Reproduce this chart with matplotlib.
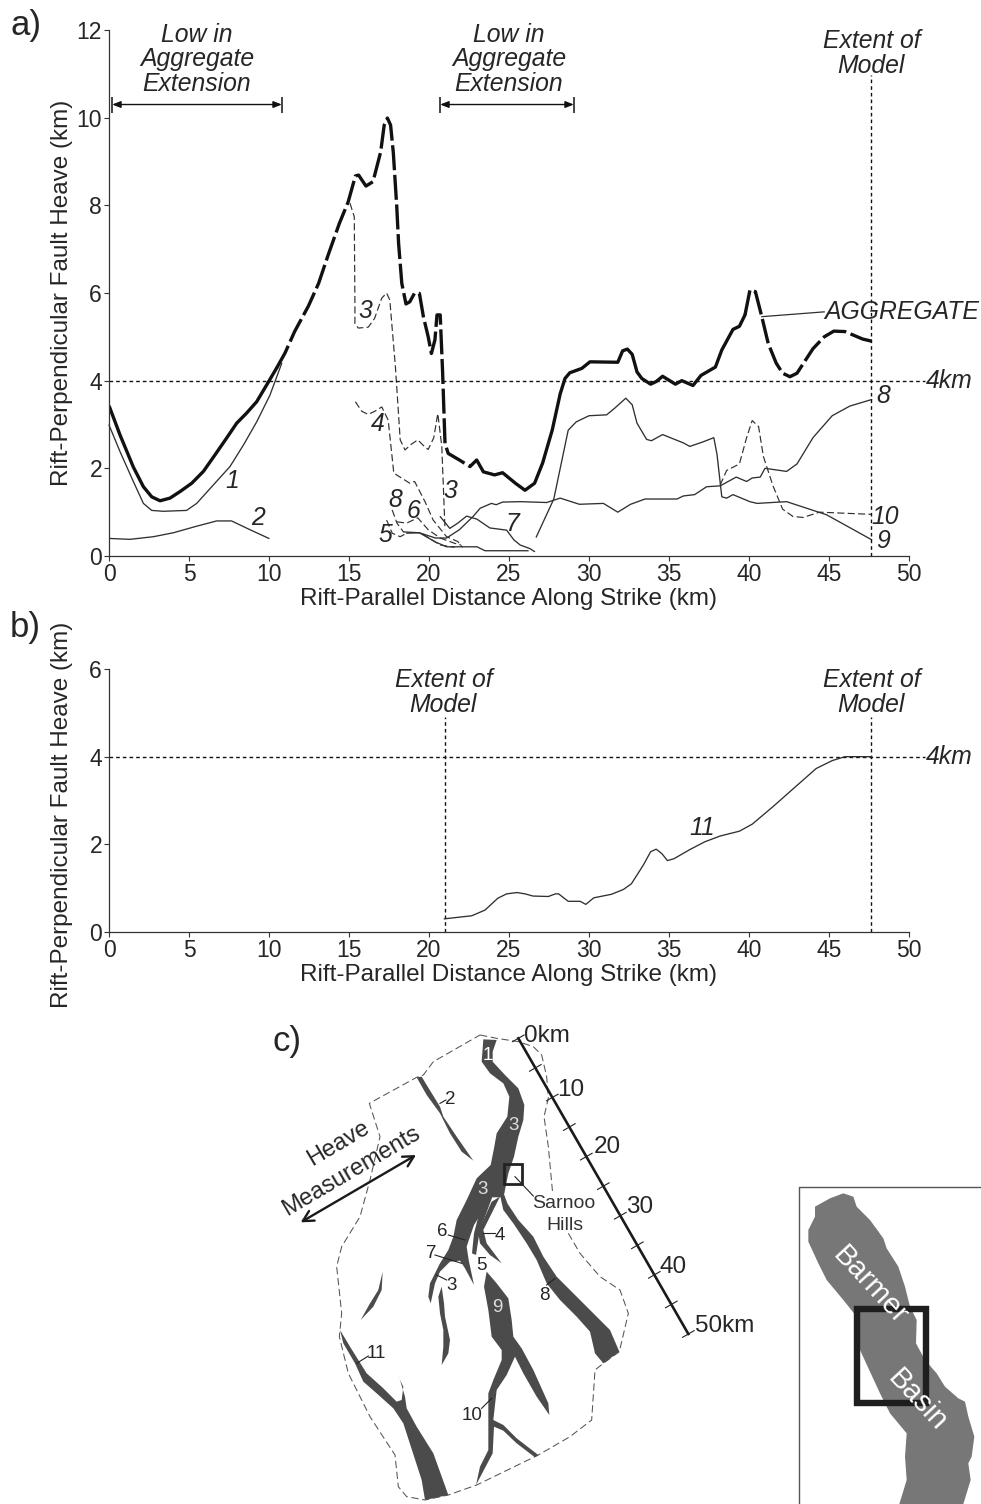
import matplotlib
matplotlib.use('Agg')
import matplotlib.pyplot as plt
import numpy as np
from matplotlib.patches import Polygon, Rectangle

plt.rcParams['font.family'] = ['Liberation Sans', 'DejaVu Sans']
W, H = 981, 1504
DARK = '#262626'
FAULT = '#4b4b4b'

# ---- panel a data (km along strike, km heave)
agg_x = [0.02,0.69,1.52,2.15,2.67,3.19,3.81,4.44,5.17,5.9,6.63,7.35,7.98,8.6,9.23,9.85,10.48,11,11.6,12.46,13.1,13.7,14.4,14.95,15.4,15.6,16.06,16.5,16.98,17.2,17.4,17.6,17.77,17.98,18.1,18.3,18.56,18.8,19.1,19.4,19.65,19.95,20.15,20.37,20.5,20.7,20.85,21,21.2,21.9,22.56,22.98,23.4,24.1,24.6,25.4,26,26.6,27.1,27.7,28.2,28.5,28.8,29.55,30.06,31.8,32.1,32.4,32.7,33,33.3,33.85,34.2,34.6,35.4,35.8,36.5,37,37.9,38.3,39,39.4,39.75,40.06,40.4,40.8,41.2,41.7,42.1,42.56,43,44,44.7,45.3,46,47.1,47.67]
agg_y = [3.41,2.76,2.03,1.58,1.35,1.26,1.32,1.47,1.66,1.93,2.31,2.69,3.03,3.26,3.52,3.9,4.29,4.63,5.12,5.7,6.22,6.87,7.59,8.08,8.67,8.69,8.44,8.54,9.22,9.83,9.99,9.83,9.2,8.0,7.13,6.22,5.75,5.8,6.0,5.99,5.46,5.0,4.62,4.93,5.5,5.5,4.2,2.57,2.34,2.19,2.04,2.19,1.92,1.85,1.9,1.66,1.5,1.66,2.12,2.87,3.7,4.05,4.18,4.28,4.43,4.42,4.68,4.72,4.6,4.2,4.05,3.92,3.98,4.1,3.92,4.0,3.89,4.12,4.31,4.7,5.17,5.24,5.5,6.07,6.03,5.46,4.85,4.4,4.17,4.09,4.17,4.73,5.0,5.13,5.12,4.95,4.9]
f1_x = [0,0.69,1.52,2.15,2.67,3.4,4.85,5.48,6.52,7.56,8.4,9.23,10.06,10.8]
f1_y = [2.99,2.38,1.7,1.2,1.04,1.02,1.04,1.2,1.62,2.04,2.53,3.06,3.67,4.4]
f2_x = [0.06,1.31,2.77,4.02,5.48,6.73,7.66,8.81,10]
f2_y = [0.4,0.38,0.44,0.53,0.68,0.8,0.8,0.6,0.4]
f3_x = [15.06,15.33,15.37,15.37,15.58,16.2,16.6,17.04,17.35,17.55,17.9,18.2,18.5,18.9,19.3,19.65,19.95,20.3,20.55,20.8,21]
f3_y = [8.05,7.74,5.76,5.3,5.2,5.22,5.42,5.88,6.0,5.84,4.32,2.65,2.42,2.55,2.65,2.52,2.43,2.7,3.25,2.5,0.6]
f4_x = [15.4,15.8,16.2,16.6,17.05,17.45,17.8,18.8,19.1,19.75,20.26,21.1,21.8,22.1]
f4_y = [3.52,3.3,3.23,3.3,3.4,3.1,1.89,1.66,1.7,1.24,0.82,0.44,0.33,0.2]
f5_dash_x = [17.35,17.7,18.2,18.6]
f5_dash_y = [0.82,0.52,0.44,0.52]
f5_x = [18.6,19.4,20.4,21.1,22.1,23,23.5,26.2]
f5_y = [0.52,0.53,0.32,0.21,0.21,0.21,0.12,0.12]
f6_x = [18,18.6,19.3,19.95,20.7,21.6,22]
f6_y = [0.78,0.75,0.87,0.6,0.41,0.29,0.25]
f6b_x = [19.6,20.7,21.6]
f6b_y = [0.5,0.25,0.2]
f7_x = [20.7,21.3,21.8,22.35,23,23.8,24.85,25.3,25.7,26.3,26.6]
f7_y = [0.9,0.63,0.75,0.91,0.84,0.64,0.59,0.37,0.25,0.17,0.1]
f8_dash_x = [17.7,18,18.4]
f8_dash_y = [1.05,0.75,0.55]
f8_x = [18.4,19.4,20.4,21.1,21.9,22.75,23.2,23.9,24.2,24.6,25.7,27.35,28.2,29.4,30.9,31.8,32.6,33.5,35.5,35.9,36.6,37.35,38.2,39.2,39.85,40.2,40.7,41,42.35,43,44,45.2,46.3,47.67]
f8_y = [0.55,0.53,0.41,0.41,0.6,0.9,1.09,1.2,1.17,1.23,1.24,1.22,1.32,1.18,1.2,1.0,1.18,1.3,1.3,1.37,1.4,1.58,1.6,1.8,1.7,1.78,1.8,2.0,1.93,2.1,2.7,3.2,3.42,3.57]
f9_x = [26.7,27.8,28.7,29.2,30,31.1,31.6,32.3,32.7,33,33.6,33.9,34.6,35.9,36.3,37.1,37.8,38,38.3,38.6,39,40.05,40.5,42.35,44.85,47.67]
f9_y = [0.43,1.3,2.87,3.06,3.2,3.22,3.37,3.6,3.45,3.03,2.66,2.63,2.77,2.58,2.5,2.6,2.7,2.32,1.35,1.32,1.4,1.24,1.2,1.24,0.94,0.37]
f10_x = [38.2,38.6,39.4,39.85,40.2,40.6,40.9,41.5,42.1,42.75,43.4,44.4,47.67]
f10_y = [1.62,1.95,2.1,2.7,3.09,2.95,2.27,1.6,1.07,0.9,0.88,1.0,0.95]

# ---- panel b data
f11_x = [20.95,22.67,23.5,24.3,24.85,25.5,26,26.5,27.46,27.9,28.1,28.7,29.45,29.8,30.3,31.4,32.15,32.65,33.4,33.85,34.2,34.55,34.9,35.3,36.3,37.25,38.2,39.4,40.2,41.5,42.8,44.2,45.2,46,47.67]
f11_y = [0.3,0.37,0.5,0.77,0.87,0.9,0.87,0.82,0.81,0.87,0.87,0.7,0.7,0.63,0.78,0.86,0.97,1.1,1.53,1.83,1.89,1.79,1.63,1.67,1.88,2.06,2.19,2.3,2.46,2.86,3.28,3.73,3.91,4.0,4.0]

x_ticks = [0,5,10,15,20,25,30,35,40,45,50]
ya_ticks = [0,2,4,6,8,10,12]
yb_ticks = [0,2,4,6]
X_LABEL = 'Rift-Parallel Distance Along Strike (km)'
Y_LABEL = 'Rift-Perpendicular Fault Heave (km)'

# ---- panel c map outlines (map sheet units)
bound_r = [(630,45),(680,55),(745,65),(790,80),(815,105),(830,170),(835,235),(822,290),(835,380),(848,520)]
bound_l = [(895,640),(930,700),(990,770),(1050,810),(1075,880),(1048,995),(1000,1030),(975,1050),(965,1200),(900,1250),(805,1305),(620,1395),(535,1425),(465,1440),(410,1430),(385,1400),(375,1305),(300,1190),(235,1060),(208,950),(215,880),(200,740),(215,680),(270,590),(300,480),(330,350),(298,250),(440,172),(460,165),(490,125),(630,45)]
fault_main = [(640,58),(680,60),(668,95),(668,125),(705,165),(745,205),(763,255),(760,300),(745,350),(732,410),(715,460),(702,525),(690,532),(665,532),(640,570),(612,615),(600,650),(590,680),(596,720),(612,795),(585,745),(570,722),(540,725),(510,755),(495,790),(482,850),(475,830),(480,790),(510,730),(535,690),(550,650),(560,600),(590,540),(620,475),(662,435),(672,385),(680,340),(712,290),(718,230),(700,190),(660,160),(635,125)]
finger_b = [(668,528),(645,590),(628,640),(618,705),(606,700),(612,640),(625,590),(652,535)]
finger_c = [(690,530),(670,570),(640,630),(650,670),(695,730),(660,705),(630,670),(625,640),(645,590),(665,545)]
fault_3b = [(515,800),(522,850),(525,890),(540,960),(535,1000),(515,1035),(520,980),(520,930),(510,880),(505,830)]
fault_2 = [(440,172),(455,170),(470,195),(510,260),(520,290),(560,350),(610,422),(575,395),(540,340),(510,280),(470,225)]
fault_8 = [(690,525),(703,525),(712,550),(745,600),(790,650),(820,710),(860,770),(920,830),(970,880),(1020,930),(1048,995),(1000,1030),(975,1000),(960,935),(920,890),(870,840),(830,790),(800,720),(770,670),(730,610),(700,570)]
fault_9 = [(650,755),(680,790),(715,835),(725,900),(730,950),(755,985),(790,1050),(835,1150),(838,1185),(800,1130),(760,1060),(735,1010),(710,1065),(680,1110),(670,1200),(700,1215),(740,1255),(805,1305),(795,1312),(740,1270),(700,1232),(672,1220),(668,1300),(618,1395),(630,1340),(655,1290),(655,1120),(670,1080),(695,1020),(695,990),(665,950),(655,870),(642,800)]
fault_11 = [(210,930),(240,980),(290,1060),(340,1105),(380,1145),(395,1140),(400,1100),(378,1055),(390,1080),(405,1130),(410,1165),(440,1220),(490,1300),(535,1425),(465,1440),(455,1380),(400,1210),(370,1165),(320,1120),(280,1085),(255,1030),(220,970)]
fault_small = [(338,755),(335,810),(310,860),(272,900),(300,850),(325,810)]
faults = [fault_main, finger_b, finger_c, fault_3b, fault_2, fault_8, fault_9, fault_11, fault_small]
leaders = [((510,250),(528,240)),((535,645),(585,660)),((495,705),(575,730)),((500,765),(530,780)),((640,640),(675,640)),((830,795),(855,775)),((635,1165),(665,1135)),((260,1030),(295,1008)),((735,470),(790,528))]
map_labels = [('1',652,105,'white'),('3',730,318,'#dddddd'),('3',637,508,'#dddddd'),('9',682,862,'#dddddd'),
              ('2',541,240,DARK),('6',518,633,DARK),('4',688,648,DARK),('7',483,702,DARK),('5',635,735,DARK),
              ('3',545,797,DARK),('8',823,825,DARK),('10',607,1185,DARK),('11',320,1000,DARK)]
scale_km = [0,5,10,15,20,25,30,35,40,45,50]
scale_start = (745,55)
scale_end = (1255,942)
scale_labels = [('0km',762,48),('10',860,210),('20',972,380),('30',1068,560),('40',1170,740),('50km',1275,917)]
basin = [(555,110),(600,85),(640,70),(670,80),(680,110),(720,150),(760,205),(770,235),(805,290),(825,350),(840,410),(860,450),(858,520),(885,570),(920,610),(945,650),(985,685),(1005,695),(1015,740),(1033,800),(1025,860),(1015,880),(1022,930),(1000,1002),(808,1002),(830,930),(825,860),(830,790),(780,730),(750,670),(690,540),(680,440),(640,390),(590,330),(565,280),(535,215),(535,180),(555,140)]
INSET_DX, INSET_DY = 1080, 450

fig = plt.figure(figsize=(W/100, H/100), dpi=100)

def axes_px(l, t, r, b):
    return fig.add_axes([l/W, 1-b/H, (r-l)/W, (b-t)/H])

def style(ax, yt, ymax):
    ax.set_xlim(0, 50); ax.set_ylim(0, ymax)
    ax.set_xticks(x_ticks); ax.set_yticks(yt)
    for s in ('top', 'right'):
        ax.spines[s].set_visible(False)
    for s in ('left', 'bottom'):
        ax.spines[s].set_linewidth(0.9); ax.spines[s].set_color('#333333')
    ax.tick_params(length=3.5, width=0.8, color='#333333', labelsize=16.5, labelcolor=DARK, pad=1.5)
    ax.patch.set_alpha(0)

# map sheet under everything
m = fig.add_axes([0, 0, 1, 1])
m.set_xlim(-810, 2133); m.set_ylim(1452, -3060); m.axis('off')

a = axes_px(109, 30, 909, 556)
b = axes_px(109, 669, 909, 932)
style(a, ya_ticks, 12); style(b, yb_ticks, 6)

thin = dict(color='#303030', lw=0.95, solid_capstyle='round', clip_on=False)
dash = dict(color='#303030', lw=0.85, dashes=(6, 2.8), clip_on=False)

ax_, ay_ = np.array(agg_x), np.array(agg_y)
for lo, hi, ds in [(0, 10.5, None), (10.48, 23.0, (7.5, 1.4)), (22.98, 39.76, None), (39.75, 48, (7.5, 1.4))]:
    k = (ax_ >= lo) & (ax_ <= hi)
    if ds:
        a.plot(ax_[k], ay_[k], color='#111111', lw=2.4, dashes=ds, dash_capstyle='butt', dash_joinstyle='round')
    else:
        a.plot(ax_[k], ay_[k], color='#111111', lw=2.4, solid_joinstyle='round', solid_capstyle='round')

for xs, ys in [(f1_x, f1_y), (f2_x, f2_y), (f5_x, f5_y), (f7_x, f7_y), (f8_x, f8_y), (f9_x, f9_y)]:
    a.plot(xs, ys, **thin)
for xs, ys in [(f3_x, f3_y), (f4_x, f4_y), (f5_dash_x, f5_dash_y), (f6_x, f6_y), (f6b_x, f6b_y), (f8_dash_x, f8_dash_y), (f10_x, f10_y)]:
    a.plot(xs, ys, **dash)

dot = dict(color='#111111', lw=1.0, dashes=(2.6, 2.2), clip_on=False)
a.plot([0, 51.0], [4, 4], **dot)
a.plot([47.65, 47.65], [0, 10.97], **dot)
b.plot([0, 51.0], [4, 4], **dot)
b.plot([47.65, 47.65], [0, 4.9], **dot)
b.plot([21, 21], [0, 4.9], **dot)
b.plot(f11_x, f11_y, **thin)

it = dict(style='italic', color=DARK, ha='center', va='center', fontsize=17.8)
for xc, lab in [(5.5, 'Low in\nAggregate\nExtension'), (25, 'Low in\nAggregate\nExtension')]:
    a.text(xc, 11.33, lab, linespacing=1.03, **it)
for l, r in [(0.2, 10.8), (20.7, 29.05)]:
    a.annotate('', xy=(l, 10.3), xytext=(r, 10.3),
               arrowprops=dict(arrowstyle='<|-|>,head_length=0.5,head_width=0.2', color='#111111', lw=1.0, shrinkA=0, shrinkB=0))
    a.plot([l, r], [10.3, 10.3], ls='none', marker='|', ms=11, mew=1.1, color='#111111', clip_on=False)
a.text(47.65, 11.46, 'Extent of\nModel', linespacing=1.03, **it)
b.text(47.65, 5.46, 'Extent of\nModel', linespacing=1.03, **it)
b.text(20.9, 5.46, 'Extent of\nModel', linespacing=1.03, **it)
a.text(51.08, 4.0, '4km', **{**it, 'ha': 'left'})
b.text(51.08, 4.0, '4km', **{**it, 'ha': 'left'})
a.text(44.7, 5.57, 'AGGREGATE', **{**it, 'ha': 'left'})
a.plot([40.8, 44.7], [5.46, 5.57], color='#303030', lw=0.9)
b.text(37.1, 2.37, '11', **it)
for t, x, y in [('1', 7.7, 1.7), ('2', 9.3, 0.87), ('3', 16, 5.6), ('4', 16.8, 3.02), ('3', 21.3, 1.48),
                ('8', 17.9, 1.28), ('6', 19, 1.03), ('5', 17.3, 0.48), ('7', 25.2, 0.72),
                ('8', 48.4, 3.65), ('10', 48.5, 0.9), ('9', 48.4, 0.35)]:
    a.text(x, y, t, **it)

for ax, yc, xy in [(a, 293, 599), (b, 815, 975)]:
    fig.text(62/W, 1-yc/H, Y_LABEL, rotation=90, ha='center', va='center', fontsize=17.5, color=DARK)
    fig.text(508/W, 1-xy/H, X_LABEL, ha='center', va='center', fontsize=17.5, color=DARK)
for t, px, py in [('a)', 10, 25), ('b)', 10, 627), ('c)', 272, 1041)]:
    fig.text(px/W, 1-py/H, t, ha='left', va='center', fontsize=25, color=DARK)

# ---- panel c
for poly in faults:
    m.add_patch(Polygon(poly, closed=True, fc=FAULT, ec='none', zorder=2))
for seg in (bound_r, bound_l):
    xs, ys = zip(*seg)
    m.plot(xs, ys, color='#555555', lw=0.75, dashes=(7, 3.5), zorder=1)
for (p, q) in leaders:
    m.plot([p[0], q[0]], [p[1], q[1]], color='#222222', lw=0.8, zorder=3)
for t, x, y, c in map_labels:
    m.text(x, y, t, color=c, fontsize=13.5, ha='center', va='center', zorder=4)
m.add_patch(Rectangle((703, 432), 54, 60, fc='none', ec='#222222', lw=2.0, zorder=4))
m.text(882, 552, 'Sarnoo', fontsize=14, color='#333333', ha='center', va='center', zorder=4)
m.text(884, 615, 'Hills', fontsize=14, color='#333333', ha='center', va='center', zorder=4)

s0, s1 = np.array(scale_start, float), np.array(scale_end, float)
m.plot([s0[0], s1[0]], [s0[1], s1[1]], color='#1a1a1a', lw=1.9, zorder=3)
u = (s1 - s0)/np.linalg.norm(s1 - s0)
perp = np.array([u[1], -u[0]])
for km in scale_km:
    c = s0 + (s1 - s0)*km/scale_km[-1]
    p, q = c - perp*20, c + perp*20
    m.plot([p[0], q[0]], [p[1], q[1]], color='#222222', lw=0.8, zorder=3)
for t, x, y in scale_labels:
    m.text(x, y, t, fontsize=17.5, color=DARK, ha='left', va='center', zorder=4)

m.annotate('', xy=(92, 607), xytext=(438, 405),
           arrowprops=dict(arrowstyle='<->,head_length=0.75,head_width=0.4', color='#1a1a1a', lw=1.7, shrinkA=0, shrinkB=0))
m.text(205, 372, 'Heave', fontsize=17, color=DARK, rotation=30.5, ha='center', va='center', rotation_mode='anchor')
m.text(245, 455, 'Measurements', fontsize=17, color=DARK, rotation=30.5, ha='center', va='center', rotation_mode='anchor')

# ---- locator inset
ins_x = 508 + INSET_DX; ins_y = 52 + INSET_DY
m.plot([ins_x, ins_x, 2133], [1452, ins_y, ins_y], color='#555555', lw=1.0, zorder=1)
m.add_patch(Polygon([(x + INSET_DX, y + INSET_DY) for x, y in basin], closed=True, fc='#777777', ec='none', zorder=2))
m.add_patch(Rectangle((681 + INSET_DX, 418 + INSET_DY), 206, 280, fc='none', ec='#1e1e1e', lw=4.6, zorder=3))
m.text(720 + INSET_DX, 345 + INSET_DY, 'Barmer', color='white', fontsize=21, rotation=-47, ha='center', va='center', rotation_mode='anchor', zorder=4)
m.text(862 + INSET_DX, 690 + INSET_DY, 'Basin', color='white', fontsize=21, rotation=-47, ha='center', va='center', rotation_mode='anchor', zorder=4)

fig.savefig('out.png', dpi=100)
